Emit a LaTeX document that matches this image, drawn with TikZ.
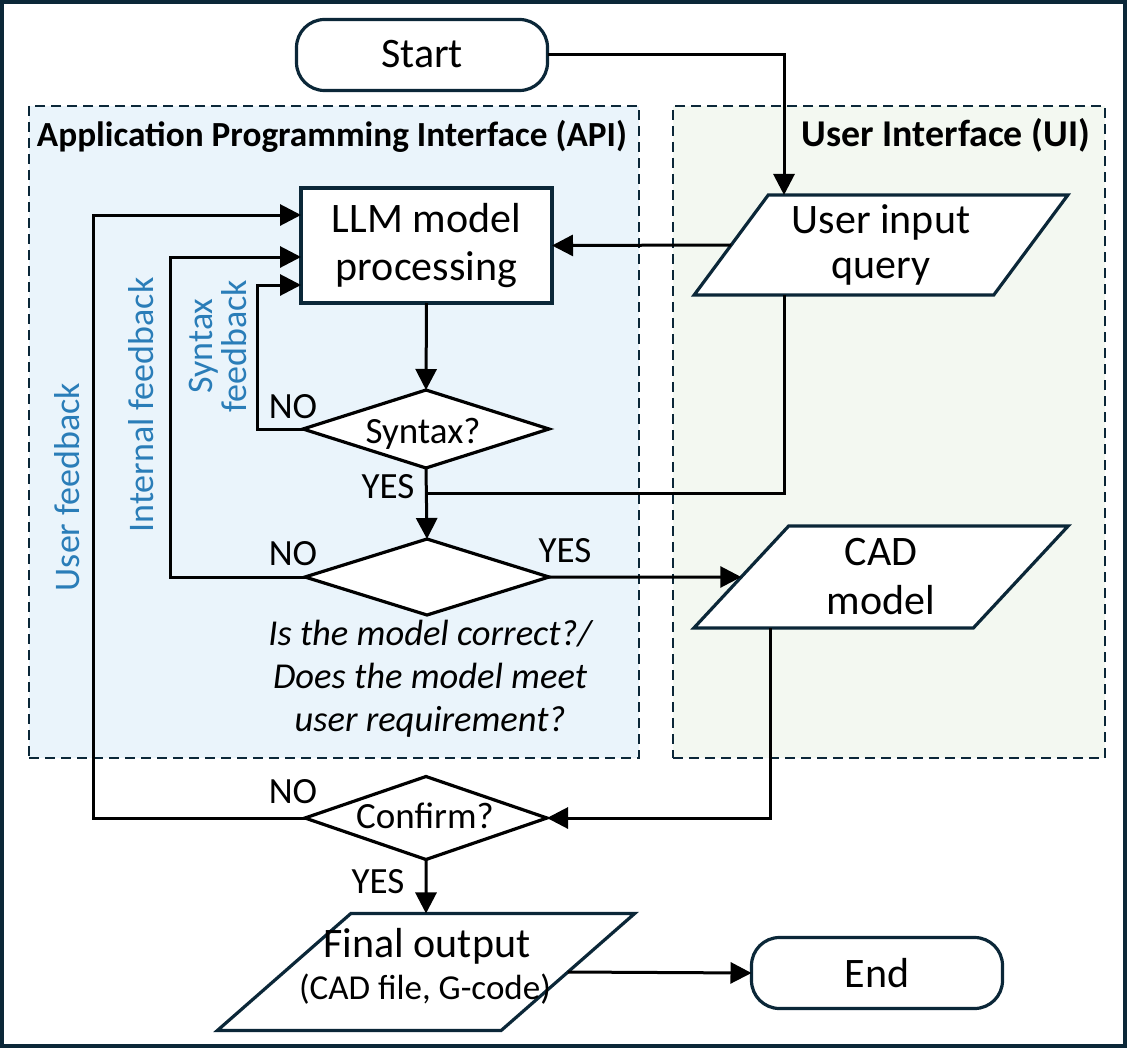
\documentclass[tikz,border=0pt]{standalone}
\usepackage{fontspec}
\setmainfont{Carlito}
\usetikzlibrary{shapes.geometric,arrows.meta,calc}
\definecolor{navy}{HTML}{0B2738}
\definecolor{apifill}{HTML}{EAF4FB}
\definecolor{uifill}{HTML}{F3F8F1}
\definecolor{fbblue}{HTML}{2A7DB8}
\begin{document}
\begin{tikzpicture}[x=1pt,y=-1pt,
  every node/.style={inner sep=0pt,outer sep=0pt},
  region/.style={draw=navy,line width=1.5pt,dash pattern=on 10pt off 6pt},
  term/.style={draw=navy,line width=3.2pt,fill=white,rounded corners=28pt,minimum width=251pt,minimum height=71pt},
  proc/.style={draw=navy,line width=3.2pt,fill=white,minimum width=251pt,minimum height=115pt,align=center,font=\fontsize{42}{48}\selectfont},
  io/.style={draw=navy,line width=3.2pt,fill=white,trapezium,trapezium left angle=54,trapezium right angle=126,trapezium stretches=true,align=center,font=\fontsize{42}{47}\selectfont},
  dec/.style={draw=black,line width=3.2pt,fill=white,diamond,minimum width=246pt,minimum height=78pt},
  main/.style={font=\fontsize{42}{48}\selectfont},
  dtext/.style={font=\fontsize{37}{42}\selectfont},
  yn/.style={font=\fontsize{37}{42}\selectfont},
  fb/.style={text=fbblue,rotate=90,align=center,font=\fontsize{36}{34}\selectfont},
  ttl/.style={font=\fontsize{34}{40}\selectfont\bfseries},
  arr/.style={line width=3pt,-{Triangle[length=21pt,width=21pt]}},
  conn/.style={line width=3pt}
]
\useasboundingbox (0,0) rectangle (1134,1051);
\fill[white] (0,0) rectangle (1134,1051);
\draw[navy,line width=4pt] (2,2) rectangle (1125,1046);

% regions
\node[region,fill=apifill,minimum width=610pt,minimum height=652pt] (api) at (334,432) {};
\node[region,fill=uifill,minimum width=432pt,minimum height=652pt] (uib) at (889,432) {};
\node[ttl,anchor=base west] (apit) at (37,147) {\resizebox{590pt}{!}{Application Programming Interface (API)}};
\node[ttl,anchor=base east] (uit) at (1090,147) {\resizebox{288pt}{!}{User Interface (UI)}};

% nodes
\node[term] (start) at (422,55) {};
\node[main,anchor=base] (startt) at (422,68) {Start};
\node[proc] (llm) at (426.5,245.5) {LLM model\\processing};
\node[io,minimum width=375pt,minimum height=100pt,font=\fontsize{42}{45}\selectfont] (ui) at (881,245) {User input\\query};
\node[dec] (syn) at (426,429) {};
\node[dtext,anchor=base] (syntxt) at (423,443) {Syntax?};
\node[dec,minimum height=76pt,minimum width=244pt] (mod) at (427,577) {};
\node[io,minimum width=375pt,minimum height=102pt,font=\fontsize{42}{49}\selectfont] (cad) at (881,577) {CAD\\model};
\node[dec,minimum width=242pt,minimum height=83pt] (conf) at (426,818) {};
\node[dtext,anchor=base] (conftxt) at (425,828) {Confirm?};
\node[io,minimum width=418pt,minimum height=117pt,trapezium left angle=54.3,trapezium right angle=125.7] (fin) at (426,972) {\phantom{X}};
\node[main,anchor=base] (fint) at (427,957) {Final output};
\node[font=\fontsize{35}{40}\selectfont,anchor=base] (fins) at (425,999) {(CAD file, G-code)};
\node[term] (end) at (877,973) {};
\node[main,anchor=base] (endt) at (877,987) {End};

% question text
\node[align=center,font=\fontsize{36.5}{43}\selectfont\itshape] (q) at (430,679) {Is the model correct?/\\Does the model meet\\user requirement?};

% feedback labels
\node[fb] (uf) at (67,487) {User feedback};
\node[fb] (inf) at (141,405) {Internal feedback};
\node[fb] (sf) at (218,346) {Syntax\\feedback};

% yes/no labels
\node[yn,anchor=base] (sno) at (293,418) {NO};
\node[yn,anchor=base] (syes) at (388,498) {YES};
\node[yn,anchor=base] (mno) at (293,565) {NO};
\node[yn,anchor=base] (myes) at (565,562) {YES};
\node[yn,anchor=base] (cno) at (293,803) {NO};
\node[yn,anchor=base] (cyes) at (378,893) {YES};

% coordinates
\coordinate (qx) at (784,0);
\coordinate (cx) at (770,0);
\coordinate (j) at (426,493);
\coordinate (sfb) at (257,285);
\coordinate (ifb) at (170,257);
\coordinate (ufb) at (93,215);

% connectors
\draw[arr] (start.east) -| (qx |- ui.north);
\draw[arr] (ui.west) -- (llm.east);
\draw[arr] (llm.south) -- (syn.north);
\draw[arr] (syn.west) -| (sfb) -- (llm.west |- sfb);
\draw[arr] (syn.south) -- (mod.north);
\draw[conn] (qx |- ui.south) |- (j);
\draw[arr] (mod.west) -| (ifb) -- (llm.west |- ifb);
\draw[arr] (mod.east) -- (cad.west);
\draw[arr] (cx |- cad.south) |- (conf.east);
\draw[arr] (conf.west) -| (ufb) -- (llm.west |- ufb);
\draw[arr] (conf.south) -- (fin.north);
\draw[arr] (fin.east) -- (end.west);
\end{tikzpicture}
\end{document}
